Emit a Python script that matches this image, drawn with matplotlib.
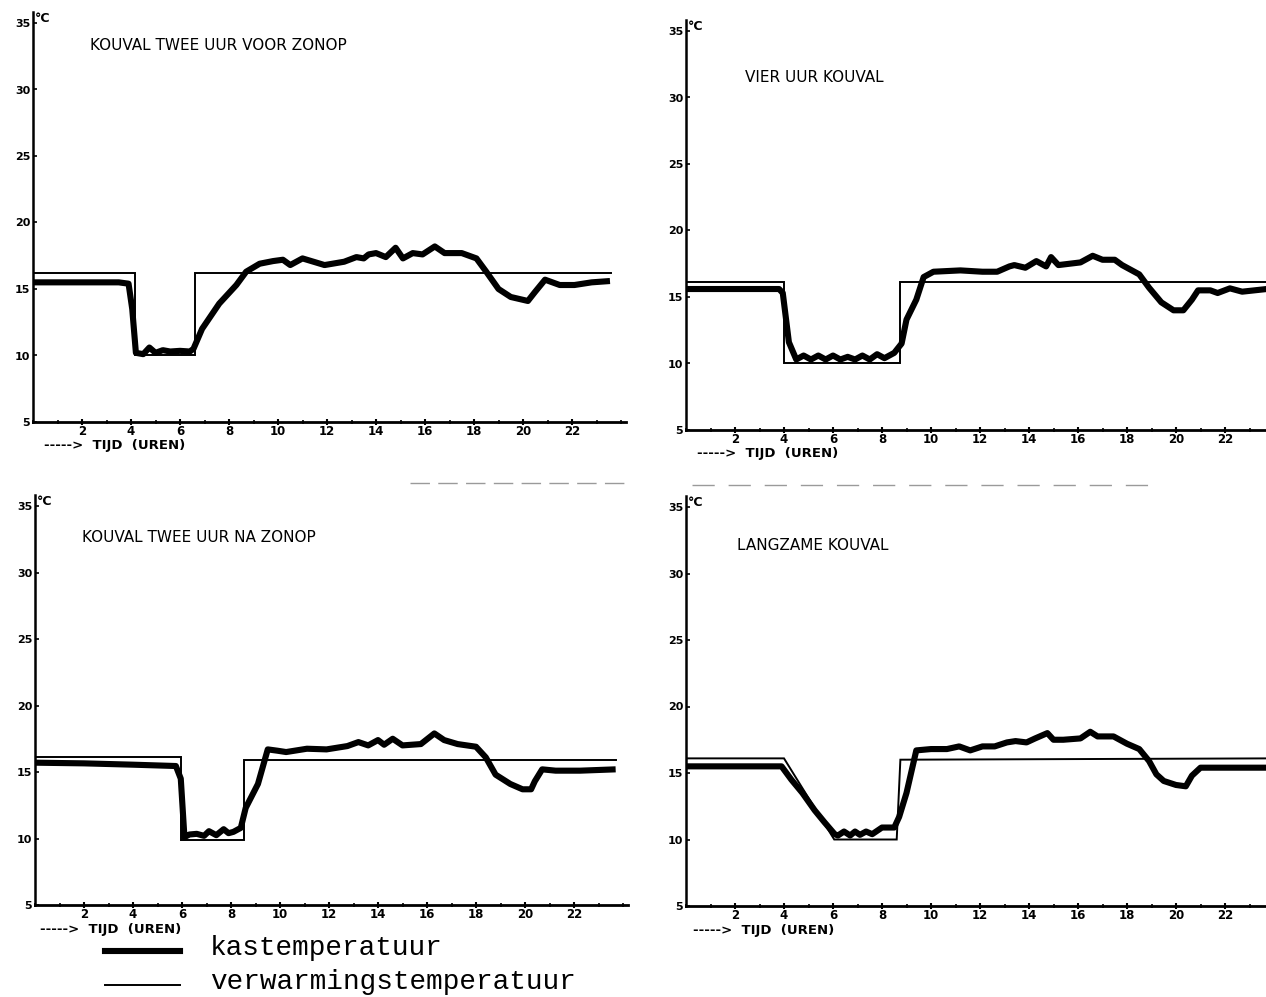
import matplotlib
matplotlib.use("Agg")
import matplotlib.pyplot as plt
from matplotlib.lines import Line2D
from matplotlib.ticker import MultipleLocator

# ---------------- data ----------------
titles = ["KOUVAL TWEE UUR VOOR ZONOP", "VIER UUR KOUVAL",
          "KOUVAL TWEE UUR NA ZONOP", "LANGZAME KOUVAL"]

y_ticks = [5, 10, 15, 20, 25, 30, 35]
y_tick_labels = ["5", "10", "15", "20", "25", "30", "35"]
x_ticks = [2, 4, 6, 8, 10, 12, 14, 16, 18, 20, 22]
x_tick_labels = ["2", "4", "6", "8", "10", "12", "14", "16", "18", "20", "22"]

# verwarmingstemperatuur (thin)
heat_a_t = [0, 4.15, 4.15, 6.6, 6.6, 23.6]
heat_a_v = [16.2, 16.2, 10.0, 10.0, 16.2, 16.2]
heat_b_t = [0, 4.0, 4.0, 8.75, 8.75, 23.7]
heat_b_v = [16.1, 16.1, 10.0, 10.0, 16.1, 16.1]
heat_c_t = [0, 5.95, 5.95, 8.55, 8.55, 23.7]
heat_c_v = [16.1, 16.1, 9.9, 9.9, 15.9, 15.9]
heat_d_t = [0, 4.0, 6.05, 8.6, 8.75, 23.9]
heat_d_v = [16.1, 16.1, 10.0, 10.0, 16.0, 16.1]

# kastemperatuur (thick)
kas_a_t = [0, 3.5, 3.9, 4.05, 4.2, 4.5, 4.75, 5.0, 5.3, 5.6,
           6.0, 6.4, 6.55, 6.9, 7.6, 8.3, 8.7, 9.25, 9.8, 10.2,
           10.5, 11.0, 11.9, 12.7, 13.2, 13.5, 13.7, 14.0, 14.4, 14.8,
           15.1, 15.5, 15.9, 16.4, 16.8, 17.5, 18.1, 18.5, 19.0, 19.5,
           20.2, 20.5, 20.9, 21.5, 22.1, 22.8, 23.55]
kas_a_v = [15.5, 15.5, 15.4, 13.5, 10.2, 10.1, 10.6, 10.2, 10.4, 10.3,
           10.35, 10.3, 10.5, 12.0, 13.9, 15.3, 16.3, 16.9, 17.1, 17.2,
           16.8, 17.3, 16.8, 17.05, 17.4, 17.3, 17.6, 17.7, 17.4, 18.1,
           17.3, 17.7, 17.6, 18.2, 17.7, 17.7, 17.3, 16.3, 15.0, 14.4,
           14.1, 14.8, 15.7, 15.3, 15.3, 15.5, 15.6]
kas_b_t = [0, 3.8, 3.95, 4.2, 4.5, 4.8, 5.1, 5.4, 5.7, 6.0,
           6.3, 6.6, 6.9, 7.2, 7.5, 7.8, 8.1, 8.5, 8.8, 9.0,
           9.4, 9.7, 10.1, 11.2, 12.1, 12.7, 13.2, 13.4, 13.85, 14.3,
           14.7, 14.9, 15.2, 16.1, 16.6, 17.0, 17.5, 17.8, 18.5, 18.9,
           19.4, 19.9, 20.3, 20.65, 20.9, 21.4, 21.7, 22.2, 22.7, 23.7]
kas_b_v = [15.6, 15.6, 15.3, 11.6, 10.3, 10.6, 10.3, 10.6, 10.3, 10.6,
           10.3, 10.5, 10.3, 10.6, 10.3, 10.7, 10.4, 10.8, 11.5, 13.3,
           14.8, 16.5, 16.9, 17.0, 16.9, 16.9, 17.3, 17.4, 17.2, 17.7,
           17.3, 18.0, 17.4, 17.6, 18.1, 17.8, 17.8, 17.4, 16.7, 15.7,
           14.6, 14.0, 14.0, 14.8, 15.5, 15.5, 15.3, 15.65, 15.4, 15.6]
kas_c_t = [0, 2.0, 4.0, 5.75, 5.95, 6.1, 6.3, 6.6, 6.9, 7.1,
           7.4, 7.7, 7.9, 8.1, 8.4, 8.6, 9.1, 9.5, 9.9, 10.25,
           11.1, 11.9, 12.75, 13.2, 13.6, 14.0, 14.25, 14.6, 15.0, 15.75,
           16.3, 16.7, 17.25, 18.0, 18.4, 18.8, 19.4, 19.9, 20.25, 20.4,
           20.7, 21.25, 22.25, 23.7]
kas_c_v = [15.7, 15.65, 15.55, 15.45, 14.5, 10.1, 10.3, 10.35, 10.2, 10.55,
           10.25, 10.7, 10.4, 10.5, 10.8, 12.3, 14.1, 16.7, 16.6, 16.5,
           16.75, 16.7, 16.95, 17.25, 17.0, 17.4, 17.05, 17.5, 17.0, 17.1,
           17.9, 17.4, 17.1, 16.9, 16.1, 14.8, 14.1, 13.7, 13.7, 14.3,
           15.2, 15.1, 15.1, 15.2]
kas_d_t = [0, 3.9, 4.3, 4.75, 5.25, 5.65, 6.07, 6.2, 6.45, 6.7,
           6.9, 7.1, 7.35, 7.6, 8.0, 8.5, 8.7, 9.0, 9.4, 10.0,
           10.65, 11.15, 11.6, 12.1, 12.6, 13.1, 13.45, 13.9, 14.25, 14.75,
           15.0, 15.4, 16.1, 16.5, 16.8, 17.45, 18.0, 18.5, 18.9, 19.2,
           19.5, 20.0, 20.4, 20.65, 21.0, 22.0, 23.9]
kas_d_v = [15.5, 15.5, 14.5, 13.5, 12.2, 11.3, 10.4, 10.3, 10.6, 10.3,
           10.6, 10.35, 10.6, 10.4, 10.9, 10.9, 11.7, 13.5, 16.7, 16.8,
           16.8, 17.0, 16.7, 17.0, 17.0, 17.3, 17.4, 17.3, 17.6, 18.0,
           17.5, 17.5, 17.6, 18.1, 17.75, 17.75, 17.2, 16.8, 15.9, 14.9,
           14.4, 14.1, 14.0, 14.8, 15.4, 15.4, 15.4]

legend_labels = ["kastemperatuur", "verwarmingstemperatuur"]
x_label = "----->  TIJD  (UREN)"

# ---------------- figure ----------------
W, H = 1266, 997
fig = plt.figure(figsize=(W / 100, H / 100), dpi=100)
fig.patch.set_facecolor("white")


def fx(x):
    return x / W


def fy(y):
    return 1 - y / H


PX_HR = 24.5
PX_DEG = 13.3
YMIN, YMAX = 5, 35.8

# (left_px, bottom_px, xmax)
boxes = [(33, 422, 24.2), (686, 430, 23.67), (35, 905, 24.2), (686, 906, 23.67)]
heats = [(heat_a_t, heat_a_v), (heat_b_t, heat_b_v), (heat_c_t, heat_c_v), (heat_d_t, heat_d_v)]
kases = [(kas_a_t, kas_a_v), (kas_b_t, kas_b_v), (kas_c_t, kas_c_v), (kas_d_t, kas_d_v)]
title_pos = [(90, 45), (745, 77), (82, 537), (737, 545)]
xlabel_pos = [(44, 446), (697, 453), (40, 929), (693, 930)]

tfont = ["DejaVu Sans"]

for i in range(4):
    lpx, bpx, xmax = boxes[i]
    wpx = xmax * PX_HR
    hpx = (YMAX - YMIN) * PX_DEG
    ax = fig.add_axes([fx(lpx), fy(bpx), wpx / W, hpx / H])
    ax.set_xlim(0, xmax)
    ax.set_ylim(YMIN, YMAX)
    ax.set_facecolor("none")
    for s in ["top", "right"]:
        ax.spines[s].set_visible(False)
    ax.spines["left"].set_linewidth(1.8)
    ax.spines["bottom"].set_linewidth(2.0)

    ht, hv = heats[i]
    ax.plot(ht, hv, color="black", lw=1.4, solid_joinstyle="miter", zorder=3)
    kt, kv = kases[i]
    ax.plot(kt, kv, color="black", lw=4.4, solid_joinstyle="round",
            solid_capstyle="butt", zorder=4)

    ax.set_xticks(x_ticks)
    ax.set_xticklabels(x_tick_labels, fontsize=8.5, fontweight="bold")
    ax.xaxis.set_minor_locator(MultipleLocator(1))
    ax.tick_params(axis="x", which="major", direction="inout", length=4, width=1.5, pad=0.5)
    ax.tick_params(axis="x", which="minor", direction="inout", length=3, width=1.2)
    ax.set_yticks(y_ticks)
    ax.set_yticklabels(y_tick_labels, fontsize=8, fontweight="bold")
    ax.tick_params(axis="y", direction="in", length=3, width=1.2, pad=2)

    ax.text(0.004, 1.0, "°C", transform=ax.transAxes, fontsize=9,
            fontweight="bold", ha="left", va="top")

    tx, ty = title_pos[i]
    fig.text(fx(tx), fy(ty), titles[i], family=tfont, fontsize=11,
             ha="left", va="center")
    lx, ly = xlabel_pos[i]
    fig.text(fx(lx), fy(ly), x_label, family=tfont, fontsize=9.5,
             fontweight="bold", ha="left", va="center")

# legend
fig.add_artist(Line2D([fx(105), fx(180)], [fy(951), fy(951)], color="black", lw=4.4))
fig.add_artist(Line2D([fx(105), fx(180)], [fy(985), fy(985)], color="black", lw=1.4))
fig.text(fx(210), fy(948), legend_labels[0], family=["Liberation Mono", "DejaVu Sans Mono"],
         fontsize=20, ha="left", va="center")
fig.text(fx(210), fy(982), legend_labels[1], family=["Liberation Mono", "DejaVu Sans Mono"],
         fontsize=20, ha="left", va="center")

# faint scan artifacts (dashed rules between panels)
fig.add_artist(Line2D([fx(410), fx(628)], [fy(483), fy(483)], color="#9a9a9a", lw=1.0,
                      dashes=(14, 6)))
fig.add_artist(Line2D([fx(692), fx(1150)], [fy(485), fy(485)], color="#9a9a9a", lw=1.0,
                      dashes=(16, 10)))

fig.savefig("out.png", dpi=100, facecolor="white")
